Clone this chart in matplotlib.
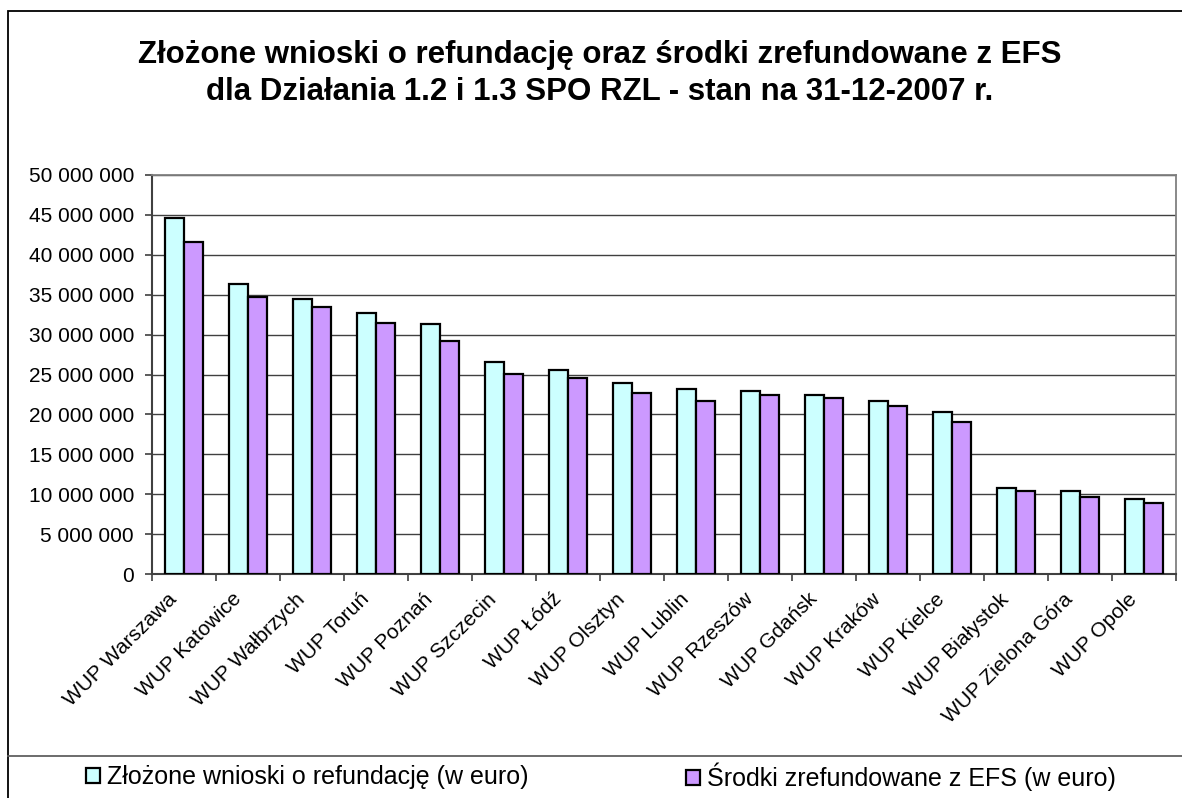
import numpy as np
import matplotlib.pyplot as plt
import matplotlib.transforms as mtransforms
from matplotlib.patches import Rectangle
from matplotlib.lines import Line2D

plt.rcParams['font.family'] = ['Liberation Sans', 'DejaVu Sans']

regions = ["WUP Warszawa", "WUP Katowice", "WUP Wałbrzych", "WUP Toruń",
           "WUP Poznań", "WUP Szczecin", "WUP Łódź", "WUP Olsztyn",
           "WUP Lublin", "WUP Rzeszów", "WUP Gdańsk", "WUP Kraków",
           "WUP Kielce", "WUP Białystok", "WUP Zielona Góra", "WUP Opole"]

# values in euro
submitted = [44.6e6, 36.3e6, 34.4e6, 32.7e6, 31.3e6, 26.6e6, 25.6e6, 23.9e6,
             23.2e6, 22.9e6, 22.45e6, 21.7e6, 20.3e6, 10.8e6, 10.4e6, 9.45e6]
refunded = [41.6e6, 34.7e6, 33.5e6, 31.5e6, 29.2e6, 25.1e6, 24.5e6, 22.7e6,
            21.7e6, 22.45e6, 22.0e6, 21.1e6, 19.1e6, 10.4e6, 9.66e6, 8.9e6]

label_submitted = "Złożone wnioski o refundację (w euro)"
label_refunded = "Środki zrefundowane z EFS (w euro)"
title_lines = ["Złożone wnioski o refundację oraz środki zrefundowane z EFS",
               "dla Działania 1.2 i 1.3 SPO RZL - stan na 31-12-2007 r."]

W, H = 1182, 798
fig = plt.figure(figsize=(W / 100, H / 100), dpi=100)

# outer chart frame and legend separator
fig.patches.append(Rectangle((7.5 / W, -0.05), 1.1, (H - 10.5) / H + 0.05,
                             transform=fig.transFigure, fill=False,
                             edgecolor="black", linewidth=1.3))
fig.lines.append(Line2D([7.5 / W, 1.0], [1 - 756 / H, 1 - 756 / H],
                        transform=fig.transFigure, color="#606060",
                        linewidth=1.3))

ax = fig.add_axes([152 / W, (H - 574) / H, 1024 / W, 399 / H])

x = np.arange(len(regions))
bw = 0.3
b1 = ax.bar(x - bw / 2, submitted, width=bw, color="#CCFFFF",
            edgecolor="black", linewidth=1.6, label=label_submitted, zorder=3)
b2 = ax.bar(x + bw / 2, refunded, width=bw, color="#CC99FF",
            edgecolor="black", linewidth=1.6, label=label_refunded, zorder=3)

ax.set_xlim(-0.5, len(regions) - 0.5)
ax.set_ylim(0, 50e6)
yt = np.arange(0, 50e6 + 1, 5e6)
ax.set_yticks(yt)
ax.set_yticklabels([f"{int(v):,}".replace(",", " ") for v in yt], fontsize=15)
ax.yaxis.grid(True, color="#404040", linewidth=1.0, zorder=0)
ax.set_axisbelow(True)

ax.set_xticks(x)
ax.set_xticklabels(regions, rotation=45, ha="right", va="center",
                   rotation_mode="anchor", fontsize=15)
ax.tick_params(axis="x", which="major", length=0, pad=16)
shift = mtransforms.ScaledTranslation(-10 / 100, 0, fig.dpi_scale_trans)
for lbl in ax.get_xticklabels():
    lbl.set_transform(lbl.get_transform() + shift)
ax.set_xticks(np.arange(-0.5, len(regions), 1), minor=True)
ax.tick_params(axis="x", which="minor", length=5, width=1.2, color="#404040")
ax.tick_params(axis="y", length=5, width=1.2, color="#404040", pad=8)

for side in ["top", "right"]:
    ax.spines[side].set_color("#808080")
    ax.spines[side].set_linewidth(1.3)
ax.spines["left"].set_color("#404040")
ax.spines["left"].set_linewidth(1.5)
ax.spines["bottom"].set_color("#404040")
ax.spines["bottom"].set_linewidth(1.5)

for line, base in zip(title_lines, [63, 100]):
    fig.text(600 / W, 1 - base / H, line, ha="center", va="baseline",
             fontsize=22.5, fontweight="bold")

# legend entries, one per series
for handle, label, x0 in [(b1, label_submitted, 86), (b2, label_refunded, 686)]:
    fig.legend([handle], [label], loc="center left",
               bbox_to_anchor=(x0 / W, 1 - 777 / H), frameon=False,
               fontsize=18, handlelength=0.55, handleheight=0.55,
               handletextpad=0.3, borderpad=0, borderaxespad=0)

plt.savefig("out.png", dpi=100)
